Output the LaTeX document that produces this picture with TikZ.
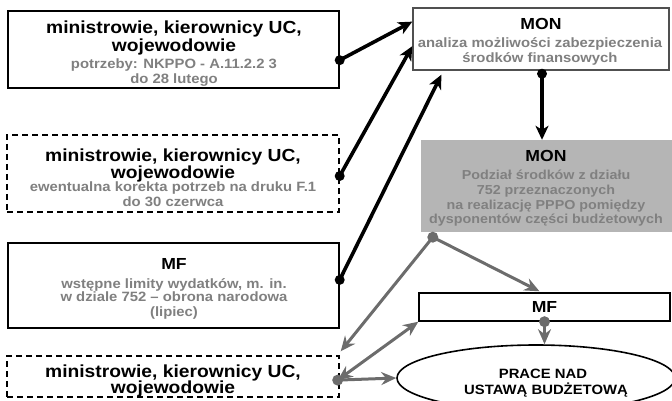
\documentclass[tikz,border=0pt]{standalone}
\usepackage{fontspec}
\setmainfont{Liberation Sans}[FakeStretch=1.1]
\usetikzlibrary{arrows.meta,shapes.geometric,calc}
\definecolor{subgray}{RGB}{128,128,128}
\definecolor{lngray}{RGB}{108,108,108}
\definecolor{boxgray}{RGB}{181,181,181}
\definecolor{edgegray}{RGB}{80,80,80}
\newcommand\myttlfont{\fontsize{17.5}{18}\selectfont\bfseries}
\newcommand\myhdfont{\fontsize{16}{18}\selectfont\bfseries}
\newcommand\mysubfont{\fontsize{13.5}{15}\selectfont\bfseries}
\newcommand\mysubsfont{\fontsize{13}{15}\selectfont\bfseries}
\begin{document}
\begin{tikzpicture}[x=1pt,y=-1pt,
  box/.style={draw=black, line width=1.4pt, fill=white, inner sep=0pt},
  dbox/.style={box, dashed, dash pattern=on 6pt off 4pt},
  ttltxt/.style={inner sep=0pt, text height=12.6pt, text depth=0pt, font=\myttlfont},
  hdtxt/.style={inner sep=0pt, text height=11.5pt, text depth=0pt, font=\myhdfont},
  subtxt/.style={inner sep=0pt, text height=9.7pt, text depth=0pt, text=subgray, font=\mysubfont},
  subgtxt/.style={inner sep=0pt, text height=9.4pt, text depth=0pt, text=subgray, font=\mysubsfont},
  eltxt/.style={inner sep=0pt, text height=9.7pt, text depth=0pt, font=\mysubfont},
  blk/.style={line width=3.6pt, draw=black, -{Stealth[length=14pt,width=13pt,inset=4pt]}},
  gry/.style={line width=3pt, draw=lngray, -{Stealth[length=15pt,width=13pt,inset=5pt]}},
  gryboth/.style={line width=3pt, draw=lngray, {Stealth[length=15pt,width=13pt,inset=5pt]}-{Stealth[length=15pt,width=13pt,inset=5pt]}},
  bdot/.style={fill=black},
  gdot/.style={fill=lngray}]
\useasboundingbox (0,0) rectangle (672,401);
\clip (0,0) rectangle (672,401);

% ---------- boxes ----------
\node[box, minimum width=331, minimum height=77] (b1) at (173.5,49.5) {};
\node[dbox, minimum width=332, minimum height=77] (b2) at (173,173.5) {};
\node[box, minimum width=331, minimum height=85] (b3) at (173.5,285.5) {};
\node[dbox, minimum width=332, minimum height=41] (b4) at (173,376.5) {};
\node[box, draw=edgegray, minimum width=256, minimum height=62] (mon1) at (541,39) {};
\node[fill=boxgray, inner sep=0pt, minimum width=251, minimum height=92] (monG) at (546.5,186) {};
\node[box, minimum width=251, minimum height=28] (mf2) at (544.5,307) {};
\node[ellipse, draw=black, line width=1.6pt, fill=white, inner sep=0pt,
      minimum width=278, minimum height=66] (ell) at (536,378) {};

% ---------- texts ----------
\node[ttltxt] (b1a) at (174,27) {\myttlfont ministrowie, kierownicy UC,};
\node[ttltxt] (b1b) at (174,45) {\myttlfont wojewodowie};
\node[subtxt] (b1c) at (174,63.5) {\mysubfont potrzeby: NKPPO - A.11.2.2 3};
\node[subtxt] (b1d) at (174,79) {\mysubfont do 28 lutego};

\node[ttltxt] (b2a) at (173,155) {\myttlfont ministrowie, kierownicy UC,};
\node[ttltxt] (b2b) at (173,172) {\myttlfont wojewodowie};
\node[subtxt] (b2c) at (173,187) {\mysubfont ewentualna korekta potrzeb na druku F.1};
\node[subtxt] (b2d) at (173,202) {\mysubfont do 30 czerwca};

\node[hdtxt] (b3a) at (174,263.5) {\myhdfont MF};
\node[subtxt] (b3b) at (174,283.5) {\mysubfont wstępne limity wydatków, m. in.};
\node[subtxt] (b3c) at (174,297) {\mysubfont w dziale 752 – obrona narodowa};
\node[subtxt] (b3d) at (174,312) {\mysubfont (lipiec)};

\node[ttltxt] (b4a) at (173,371.5) {\myttlfont ministrowie, kierownicy UC,};
\node[ttltxt] (b4b) at (173,387.5) {\myttlfont wojewodowie};

\node[hdtxt] (m1a) at (541,24) {\myhdfont MON};
\node[subtxt] (m1b) at (540,42.5) {\mysubfont analiza możliwości zabezpieczenia};
\node[subtxt] (m1c) at (540,58) {\mysubfont środków finansowych};

\node[hdtxt] (mga) at (546,156) {\myhdfont MON};
\node[subgtxt] (mgb) at (546,175) {\mysubsfont Podział środków z działu};
\node[subgtxt] (mgc) at (546,189.5) {\mysubsfont 752 przeznaczonych};
\node[subgtxt] (mgd) at (546,205) {\mysubsfont na realizację PPPO pomiędzy};
\node[subgtxt] (mge) at (546,218.5) {\mysubsfont dysponentów części budżetowych};

\node[hdtxt] (mfa) at (544.5,307) {\myhdfont MF};

\node[eltxt] (ela) at (543,373.5) {\mysubfont PRACE NAD};
\node[eltxt] (elb) at (546,389.5) {\mysubfont USTAWĄ BUDŻETOWĄ};

% ---------- black connectors ----------
\coordinate (d1) at ($(b1.north east)!0.636!(b1.south east)$);
\coordinate (d2) at ($(b2.north east)!0.532!(b2.south east)$);
\coordinate (d3) at ($(b3.north east)!0.435!(b3.south east)$);
\coordinate (d4) at ($(mon1.south)+(1,3)$);
\draw[blk] (d1) -- ($(mon1.north west)!0.226!(mon1.south west)$);
\draw[blk] (d2) -- ($(mon1.north west)!0.613!(mon1.south west)$);
\draw[blk] (d3) -- ($(mon1.south west)!0.113!(mon1.south east)+(0,4)$);
\draw[blk] (d4) -- (d4 |- monG.north);
\foreach \p in {d1,d2,d3,d4} \fill[bdot] (\p) circle (5);

% ---------- gray connectors ----------
\coordinate (g1) at ($(monG.south west)+(12,5)$);
\coordinate (g2) at ($(b4.north east)!0.585!(b4.south east)+(-2,0)$);
\coordinate (g3) at (mf2.south);
\draw[gry] (g1) -- ($(mf2.north west)!0.48!(mf2.north east)+(0,-1)$);
\draw[gry] (g1) -- ($(b4.north east)+(1,-4)$);
\draw[gryboth] (g2) -- (mf2.south west);
\draw[gry] (g2) -- (ell.west);
\draw[gry] (g3) -- (g3 |- ell.north);
\foreach \p in {g1,g2,g3} \fill[gdot] (\p) circle (5.5);
\end{tikzpicture}
\end{document}
